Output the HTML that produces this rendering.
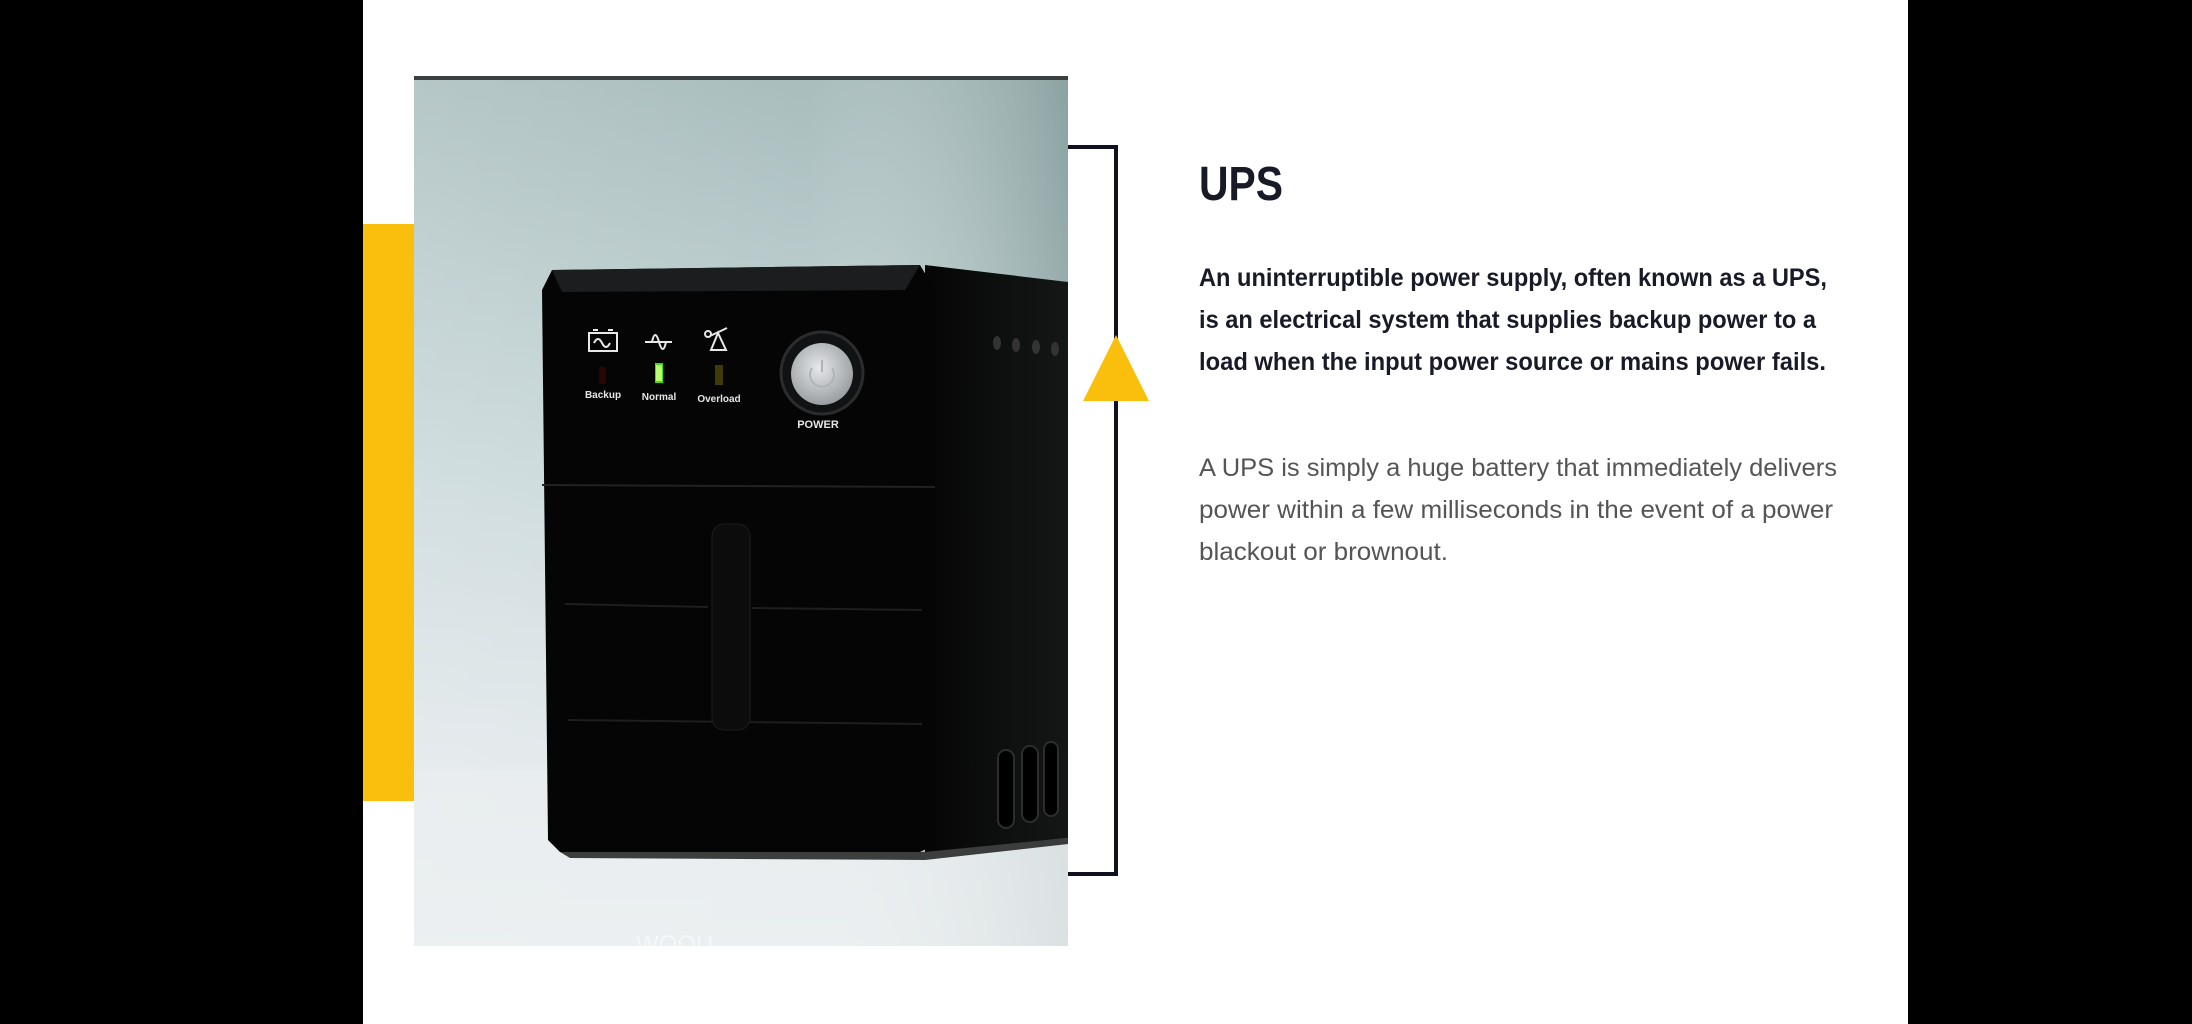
<!DOCTYPE html>
<html><head><meta charset="utf-8"><style>
html,body{margin:0;padding:0;background:#000;}
svg{display:block;}
</style></head><body>
<svg width="2192" height="1024" viewBox="0 0 2192 1024" xmlns="http://www.w3.org/2000/svg">
<defs>
<linearGradient id="bg" x1="0" y1="0" x2="0" y2="1">
<stop offset="0" stop-color="#a9bdbd"/>
<stop offset="0.45" stop-color="#c9d8da"/>
<stop offset="0.75" stop-color="#dfe6e9"/>
<stop offset="1" stop-color="#eef1f3"/>
</linearGradient>
<linearGradient id="bgh" x1="0" y1="0" x2="1" y2="0">
<stop offset="0" stop-color="#ffffff" stop-opacity="0.15"/>
<stop offset="0.6" stop-color="#ffffff" stop-opacity="0"/>
<stop offset="1" stop-color="#55706f" stop-opacity="0.35"/>
</linearGradient>
<linearGradient id="side" x1="0" y1="0" x2="1" y2="0">
<stop offset="0" stop-color="#050505"/>
<stop offset="1" stop-color="#151717"/>
</linearGradient>
<radialGradient id="btn" cx="0.45" cy="0.4" r="0.6">
<stop offset="0" stop-color="#e6e8ea"/>
<stop offset="1" stop-color="#9a9ea2"/>
</radialGradient>
</defs>
<rect x="0" y="0" width="2192" height="1024" fill="#000"/>
<rect x="363" y="0" width="1545" height="1024" fill="#fff"/>
<rect x="363" y="224" width="51" height="577" fill="#f9bf0c"/>
<rect x="414" y="77" width="654" height="869" fill="url(#bg)"/>
<rect x="414" y="77" width="654" height="869" fill="url(#bgh)"/>
<rect x="414" y="770" width="654" height="176" fill="#e9eef0" opacity="0.7"/>
<rect x="414" y="76" width="654" height="4" fill="#3a3f40"/>
<path d="M925 265 L1068 282 L1068 838 L925 852 Z" fill="url(#side)"/>
<path d="M552 270 L920 265 L935 290 L935 845 L920 852 L560 852 L548 840 L542 290 Z" fill="#050505"/>
<path d="M552 270 L920 265 L905 290 L562 292 Z" fill="#1c1d1e"/>
<line x1="542" y1="485" x2="935" y2="487" stroke="#222" stroke-width="2"/>
<line x1="565" y1="604" x2="708" y2="607" stroke="#1e1e1e" stroke-width="2"/>
<line x1="752" y1="608" x2="922" y2="610" stroke="#1e1e1e" stroke-width="2"/>
<line x1="568" y1="720" x2="922" y2="724" stroke="#1e1e1e" stroke-width="2"/>
<rect x="712" y="524" width="38" height="206" rx="12" fill="#0c0c0c" stroke="#1d1d1d"/>
<path d="M560 852 L920 852 L1068 838 L1068 844 L925 860 L570 858 Z" fill="#111" opacity="0.8"/>
<g fill="#333">
<ellipse cx="997" cy="343" rx="4" ry="7"/><ellipse cx="1016" cy="345" rx="4" ry="7"/>
<ellipse cx="1036" cy="347" rx="4" ry="7"/><ellipse cx="1055" cy="349" rx="4" ry="7"/>
</g>
<g fill="#000" stroke="#2b2e2f" stroke-width="2">
<rect x="998" y="750" width="16" height="78" rx="8"/>
<rect x="1022" y="746" width="16" height="76" rx="8"/>
<rect x="1044" y="742" width="14" height="74" rx="7"/>
</g>
<g stroke="#e8e8e8" stroke-width="2" fill="none">
<rect x="589" y="333" width="28" height="18"/>
<line x1="593" y1="330" x2="598" y2="330"/><line x1="608" y1="330" x2="613" y2="330"/>
<path d="M594 343 q4 -8 8 0 t8 0"/>
<line x1="645" y1="342" x2="672" y2="342"/>
<path d="M652 342 q3 -14 7 0 t7 0"/>
<circle cx="708" cy="334" r="3"/>
<path d="M710 336 L727 328"/>
<path d="M718 333 L711 350 L726 350 Z"/>
</g>
<rect x="599" y="367" width="7" height="17" fill="#2a0505"/>
<rect x="655" y="363" width="8" height="20" fill="#44e010"/>
<rect x="656" y="365" width="6" height="16" fill="#b8ff70"/>
<rect x="715" y="365" width="8" height="20" fill="#3f3a0a"/>
<g fill="#e6e6e6" font-family="Liberation Sans, sans-serif" font-size="10" font-weight="bold" text-anchor="middle">
<text x="603" y="398">Backup</text>
<text x="659" y="400">Normal</text>
<text x="719" y="402">Overload</text>
<text x="818" y="428" font-size="11">POWER</text>
</g>
<circle cx="822" cy="373" r="41" fill="#101213" stroke="#2a2c2e" stroke-width="3"/>
<circle cx="822" cy="374" r="31" fill="url(#btn)"/>
<path d="M812 368 a12 12 0 1 0 20 0" stroke="#b0b3b6" stroke-width="2" fill="none"/>
<line x1="822" y1="360" x2="822" y2="372" stroke="#b0b3b6" stroke-width="2"/>
<text x="636" y="952" fill="#fff" opacity="0.5" font-family="Liberation Sans, sans-serif" font-size="24">WOOU</text>
<path d="M1068 147 L1116 147 L1116 874 L1068 874" stroke="#0f1020" stroke-width="4" fill="none"/>
<polygon points="1116,335 1149,401 1083,401" fill="#f9bf0c"/>
<text x="1199" y="200" fill="#181a27" font-family="Liberation Sans, sans-serif" font-size="48" font-weight="bold" textLength="84" lengthAdjust="spacingAndGlyphs">UPS</text>
<g fill="#181a27" font-family="Liberation Sans, sans-serif" font-size="25" font-weight="bold">
<text x="1199" y="286" textLength="628" lengthAdjust="spacingAndGlyphs">An uninterruptible power supply, often known as a UPS,</text>
<text x="1199" y="328" textLength="617" lengthAdjust="spacingAndGlyphs">is an electrical system that supplies backup power to a</text>
<text x="1199" y="370" textLength="627" lengthAdjust="spacingAndGlyphs">load when the input power source or mains power fails.</text>
</g>
<g fill="#555" font-family="Liberation Sans, sans-serif" font-size="25">
<text x="1199" y="476" textLength="638" lengthAdjust="spacingAndGlyphs">A UPS is simply a huge battery that immediately delivers</text>
<text x="1199" y="518" textLength="634" lengthAdjust="spacingAndGlyphs">power within a few milliseconds in the event of a power</text>
<text x="1199" y="560" textLength="249" lengthAdjust="spacingAndGlyphs">blackout or brownout.</text>
</g>
</svg>
</body></html>
